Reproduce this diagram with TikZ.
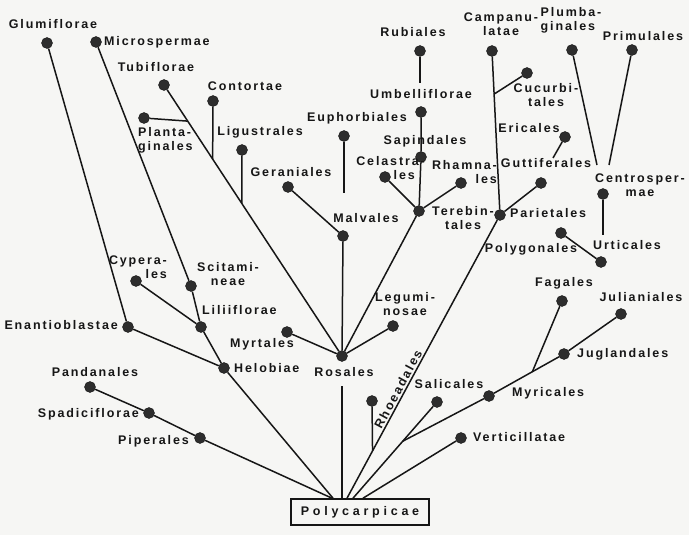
\documentclass[tikz,border=0pt]{standalone}
\usepackage{fontspec}
\newfontfamily\lblfont{Liberation Sans}[LetterSpace=15]
\newfontfamily\boxfont{Liberation Sans}[LetterSpace=30]
\definecolor{paper}{RGB}{246,246,244}
\definecolor{ink}{RGB}{22,22,22}

\begin{document}
\begin{tikzpicture}[x=1pt,y=-1pt,
    taxon/.style={circle,fill=ink!90,draw=ink,inner sep=0pt,minimum size=11pt},
    lbl/.style={font=\lblfont\bfseries\fontsize{12.5}{14}\selectfont,inner sep=0pt,text=ink},
    stem/.style={line width=1.5pt,ink}]
    \fill[paper] (0,0) rectangle (689,535);
    \useasboundingbox (0,0) rectangle (689,535);

    \node[draw=ink,line width=1.6pt,minimum width=138pt,minimum height=26pt,
          font=\boxfont\bfseries\fontsize{12.5}{14}\selectfont,text=ink] (poly) at (360,512) {Polycarpicae};

    \node[taxon] (glu) at (47,43) {};
    \node[taxon] (mic) at (96,42) {};
    \node[taxon] (tub) at (164,85) {};
    \node[taxon] (pla) at (144,118) {};
    \node[taxon] (con) at (213,101) {};
    \node[taxon] (lig) at (242,150) {};
    \node[taxon] (ger) at (288,187) {};
    \node[taxon] (eup) at (344,136) {};
    \node[taxon] (mal) at (343,236) {};
    \node[taxon] (ros) at (342,356) {};
    \node[taxon] (myr) at (287,332) {};
    \node[taxon] (leg) at (393,326) {};
    \node[taxon] (ter) at (419,211) {};
    \node[taxon] (sap) at (421,157) {};
    \node[taxon] (umb) at (421,112) {};
    \node[taxon] (rub) at (420,51) {};
    \node[taxon] (cel) at (385,177) {};
    \node[taxon] (rha) at (461,183) {};
    \node[taxon] (cam) at (492,51) {};
    \node[taxon] (cuc) at (527,73) {};
    \node[taxon] (eri) at (565,137) {};
    \node[taxon] (gut) at (541,183) {};
    \node[taxon] (par) at (500,215) {};
    \node[taxon] (plu) at (572,50) {};
    \node[taxon] (pri) at (632,50) {};
    \node[taxon] (cen) at (603,194) {};
    \node[taxon] (urt) at (601,262) {};
    \node[taxon] (pol) at (561,233) {};
    \node[taxon] (fag) at (562,301) {};
    \node[taxon] (jul) at (621,314) {};
    \node[taxon] (jug) at (564,354) {};
    \node[taxon] (myc) at (489,396) {};
    \node[taxon] (sal) at (437,402) {};
    \node[taxon] (rhd) at (372,401) {};
    \node[taxon] (ver) at (461,438) {};
    \node[taxon] (hel) at (224,368) {};
    \node[taxon] (lil) at (201,327) {};
    \node[taxon] (sci) at (191,286) {};
    \node[taxon] (cyp) at (136,281) {};
    \node[taxon] (ena) at (128,327) {};
    \node[taxon] (pan) at (90,387) {};
    \node[taxon] (spa) at (149,413) {};
    \node[taxon] (pip) at (200,438) {};

    \node[lbl] (glu-l) at (53,24) {Glumiflorae};
    \node[lbl,anchor=west] (mic-l) at (104,42) {Microspermae};
    \node[lbl] (tub-l) at (156,67) {Tubiflorae};
    \node[lbl,align=left,anchor=west] (pla-l) at (138,140) {Planta-\\ginales};
    \node[lbl] (con-l) at (245,86) {Contortae};
    \node[lbl] (lig-l) at (260,132) {Ligustrales};
    \node[lbl] (ger-l) at (291,172) {Geraniales};
    \node[lbl] (eup-l) at (357,118) {Euphorbiales};
    \node[lbl] (mal-l) at (366,218) {Malvales};
    \node[lbl] (ros-l) at (344,372) {Rosales};
    \node[lbl] (myr-l) at (262,344) {Myrtales};
    \node[lbl,align=center] (leg-l) at (405,304) {Legumi-\\nosae};
    \node[lbl,align=center] (ter-l) at (463,218) {Terebin-\\tales};
    \node[lbl] (sap-l) at (425,141) {Sapindales};
    \node[lbl] (umb-l) at (421,94) {Umbelliflorae};
    \node[lbl] (rub-l) at (413,32) {Rubiales};
    \node[lbl,align=right,anchor=east] (cel-l) at (425,168) {Celastra-\\les\hspace*{10pt}};
    \node[lbl,align=right,anchor=east] (rha-l) at (497,172) {Rhamna-\\les};
    \node[lbl,align=center] (cam-l) at (501,24) {Campanu-\\latae};
    \node[lbl,align=center] (cuc-l) at (546,95) {Cucurbi-\\tales};
    \node[lbl] (eri-l) at (529,128) {Ericales};
    \node[lbl] (gut-l) at (546,163) {Guttiferales};
    \node[lbl,anchor=west] (par-l) at (510,213) {Parietales};
    \node[lbl,align=left] (plu-l) at (571,20) {Plumba-\\ginales};
    \node[lbl] (pri-l) at (643,36) {Primulales};
    \node[lbl,align=center] (cen-l) at (640,185) {Centrosper-\\mae};
    \node[lbl] (urt-l) at (627,245) {Urticales};
    \node[lbl] (pol-l) at (531,249) {Polygonales};
    \node[lbl] (fag-l) at (564,283) {Fagales};
    \node[lbl] (jul-l) at (641,297) {Julianiales};
    \node[lbl,anchor=west] (jug-l) at (577,354) {Juglandales};
    \node[lbl,anchor=west] (myc-l) at (512,393) {Myricales};
    \node[lbl] (sal-l) at (449,384) {Salicales};
    \node[lbl,anchor=west] (ver-l) at (473,437) {Verticillatae};
    \node[lbl,anchor=west] (hel-l) at (234,368) {Helobiae};
    \node[lbl,anchor=west] (lil-l) at (202,310) {Liliiflorae};
    \node[lbl,align=center] (sci-l) at (228,274) {Scitami-\\neae};
    \node[lbl,align=right,anchor=east] (cyp-l) at (167,267) {Cypera-\\les};
    \node[lbl,anchor=east] (ena-l) at (118,325) {Enantioblastae};
    \node[lbl] (pan-l) at (95,372) {Pandanales};
    \node[lbl,anchor=east] (spa-l) at (139,414) {Spadiciflorae};
    \node[lbl,anchor=east] (pip-l) at (189,441) {Piperales};

    \coordinate (eup-e) at (344,193);
    \coordinate (rub-e) at (420,83);
    \coordinate (eri-e) at (553,158);
    \coordinate (plu-e) at (597,165);
    \coordinate (pri-e) at (609,165);
    \coordinate (cen-e) at (603,235);
    \coordinate (ros-e) at (342,386);

    \draw[stem] (glu) -- (ena) -- (hel);
    \draw[stem] (mic) -- (sci) -- (lil) -- (hel);
    \draw[stem] (cyp) -- (lil);
    \draw[stem] (pan) -- (spa) -- (pip) -- ([xshift=-28pt]poly.north);
    \draw[stem] (hel) -- ([xshift=-27pt]poly.north);
    \draw[stem] (tub) -- coordinate[pos=.12] (pla-j) coordinate[pos=.265] (con-j)
        coordinate[pos=.435] (lig-j) (ros);
    \draw[stem] (pla) -- (pla-j);
    \draw[stem] (con) -- (con-j);
    \draw[stem] (lig) -- (lig-j);
    \draw[stem] (ger) -- (mal) -- (ros);
    \draw[stem] (eup) -- (eup-e);
    \draw[stem] (myr) -- (ros) -- (leg);
    \draw[stem] (ter) -- (ros);
    \draw[stem] (rub) -- (rub-e);
    \draw[stem] (umb) -- (sap) -- (ter);
    \draw[stem] (cel) -- (ter) -- (rha);
    \draw[stem] (cam) -- coordinate[pos=.245] (cuc-j) (par);
    \draw[stem] (cuc) -- (cuc-j);
    \draw[stem] (eri) -- (eri-e);
    \draw[stem] (gut) -- (par);
    \draw[stem] (plu) -- (plu-e);
    \draw[stem] (pri) -- (pri-e);
    \draw[stem] (cen) -- (cen-e);
    \draw[stem] (pol) -- (urt);
    \draw[stem] ([xshift=-13pt]poly.north) -- coordinate[pos=.17] (rhd-j)
        node[lbl,sloped,above=1.5pt,pos=.38] (rhd-l) {Rhoeadales} (par);
    \draw[stem] (rhd) -- (rhd-j);
    \draw[stem] ([xshift=-7pt]poly.north) -- coordinate[pos=.62] (myc-j) (sal);
    \draw[stem] (myc-j) -- (myc) -- coordinate[pos=.59] (fag-j) (jug) -- (jul);
    \draw[stem] (fag) -- (fag-j);
    \draw[stem] ([xshift=3pt]poly.north) -- (ver);
    \draw[stem] (ros-e) -- ([xshift=-18pt]poly.north);
\end{tikzpicture}
\end{document}
